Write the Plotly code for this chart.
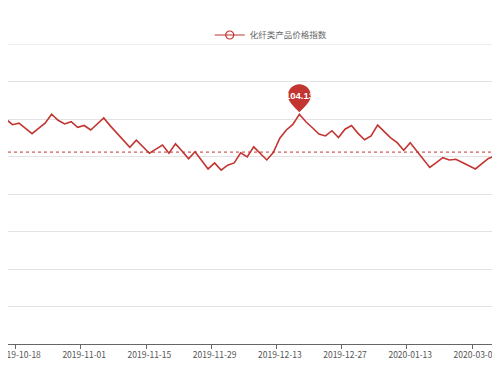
import plotly.graph_objects as go

dates = [
    "2019-10-15", "2019-10-16", "2019-10-17", "2019-10-18",
    "2019-10-21", "2019-10-22", "2019-10-23", "2019-10-24", "2019-10-25",
    "2019-10-28", "2019-10-29", "2019-10-30", "2019-10-31", "2019-11-01",
    "2019-11-04", "2019-11-05", "2019-11-06", "2019-11-07", "2019-11-08",
    "2019-11-11", "2019-11-12", "2019-11-13", "2019-11-14", "2019-11-15",
    "2019-11-18", "2019-11-19", "2019-11-20", "2019-11-21", "2019-11-22",
    "2019-11-25", "2019-11-26", "2019-11-27", "2019-11-28", "2019-11-29",
    "2019-12-02", "2019-12-03", "2019-12-04", "2019-12-05", "2019-12-06",
    "2019-12-09", "2019-12-10", "2019-12-11", "2019-12-12", "2019-12-13",
    "2019-12-16", "2019-12-17", "2019-12-18", "2019-12-19", "2019-12-20",
    "2019-12-23", "2019-12-24", "2019-12-25", "2019-12-26", "2019-12-27",
    "2019-12-30", "2019-12-31", "2020-01-02", "2020-01-03", "2020-01-06",
    "2020-01-07", "2020-01-08", "2020-01-09", "2020-01-10", "2020-01-13",
    "2020-01-14", "2020-01-15", "2020-01-16", "2020-01-17", "2020-01-20",
    "2020-01-21", "2020-01-22", "2020-01-23", "2020-02-28", "2020-03-02",
    "2020-03-03", "2020-03-04", "2020-03-05", "2020-03-06",
]

index_values = [
    103.97, 104.00, 103.85, 103.89,
    103.75, 103.61, 103.75, 103.89, 104.13,
    103.97, 103.87, 103.93, 103.78, 103.83,
    103.71, 103.87, 104.03, 103.82, 103.62,
    103.42, 103.25, 103.44, 103.26, 103.09,
    103.20, 103.31, 103.09, 103.34, 103.15,
    102.94, 103.13, 102.91, 102.67, 102.83,
    102.64, 102.77, 102.83, 103.10, 102.99,
    103.26, 103.09, 102.91, 103.11, 103.49,
    103.71, 103.86, 104.13, 103.93, 103.77,
    103.60, 103.55, 103.69, 103.51, 103.73,
    103.83, 103.62, 103.45, 103.55, 103.84,
    103.67, 103.50, 103.37, 103.17, 103.37,
    103.15, 102.93, 102.71, 102.84, 102.97,
    102.91, 102.93, 102.84, 102.75, 102.67,
    102.81, 102.95, 103.02, 102.91,
]

average_value = 103.12
series_name = "化纤类产品价格指数"
y_ticks = [98, 99, 100, 101, 102, 103, 104, 105, 106]

color = "#c23531"
grid_color = "#e3e3e3"
font_cjk = "Noto Sans CJK SC, Noto Sans, sans-serif"

# peak (marked with pin)
peak_value = max(index_values)
peak_idx = len(index_values) - 1 - index_values[::-1].index(peak_value)
peak_date = dates[peak_idx]

fig = go.Figure()
fig.add_trace(go.Scatter(
    x=dates, y=index_values, mode="lines",
    line=dict(color=color, width=1.6),
    showlegend=False, hoverinfo="x+y",
))
# legend entry
fig.add_trace(go.Scatter(
    x=[None], y=[None], mode="lines+markers", name=series_name,
    line=dict(color=color, width=1.2),
    marker=dict(symbol="circle-open", size=8, color=color, line=dict(width=1.2)),
))

# top gridline (at the edge of the value range)
fig.add_shape(type="line", xref="paper", x0=0, x1=1, yref="y",
              y0=y_ticks[-1], y1=y_ticks[-1], layer="below",
              line=dict(color=grid_color, width=1))

# average mark line
fig.add_shape(type="line", xref="paper", x0=0, x1=1, yref="y",
              y0=average_value, y1=average_value,
              line=dict(color=color, width=1, dash="3px,3px"))

# pin at max
pin_path = ("M 0 2 C -6 8, -11.5 13, -11.5 18.5 "
            "C -11.5 24.85, -6.35 30, 0 30 "
            "C 6.35 30, 11.5 24.85, 11.5 18.5 "
            "C 11.5 13, 6 8, 0 2 Z")
fig.add_shape(type="path", xref="x", yref="y",
              xsizemode="pixel", ysizemode="pixel",
              xanchor=peak_date, yanchor=peak_value,
              path=pin_path, fillcolor=color, line=dict(width=0))
fig.add_annotation(x=peak_date, y=peak_value, text=f"<b>{peak_value:.2f}</b>",
                   showarrow=False, yshift=18.5,
                   font=dict(color="white", size=9.5, family="Liberation Sans, Arial, sans-serif"))

# page body has an 8px margin: figure is sized/offset to fill the 500x375 view
fig.update_layout(
    width=492, height=367,
    margin=dict(l=0, r=0, t=36, b=31, autoexpand=False),
    paper_bgcolor="white", plot_bgcolor="white",
    showlegend=True,
    legend=dict(orientation="h", x=0.41, xanchor="left", y=1.03, yanchor="middle",
                font=dict(size=8.5, color="#666", family=font_cjk),
                bgcolor="rgba(0,0,0,0)", itemwidth=30),
    xaxis=dict(
        type="category",
        range=[1.313, 76.77],
        tickmode="linear", tick0=3, dtick=10,
        tickson="boundaries",
        tickangle=0, automargin=False,
        ticks="outside", ticklen=4, tickcolor="#666",
        ticklabelstandoff=3,
        showline=True, linecolor="#666", linewidth=1,
        showgrid=False,
        tickfont=dict(size=8.5, color="#555", family=font_cjk),
    ),
    yaxis=dict(
        range=[97.999, 106.004],
        tickvals=y_ticks,
        showticklabels=False,
        automargin=False,
        showgrid=True, gridcolor=grid_color, gridwidth=1,
        zeroline=False, showline=False,
    ),
)

fig.write_html("out.html")
